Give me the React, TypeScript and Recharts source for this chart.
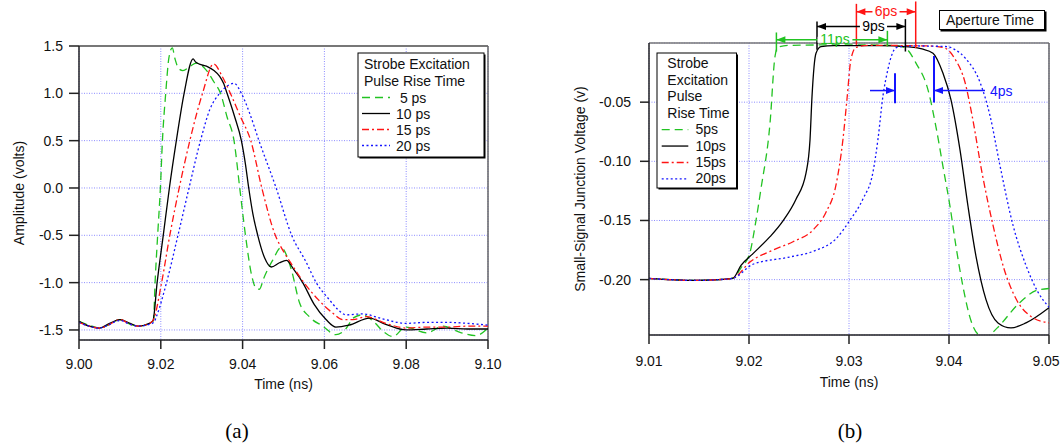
import React from 'react';
import { LineChart, Line, XAxis, YAxis, CartesianGrid, ReferenceLine, Legend } from 'recharts';

const GREEN = '#22c322';
const BLACK = '#000000';
const RED = '#ff1414';
const BLUE = '#1414ff';
const GRID = '#8c8cff';
const AXIS = '#222222';
const FONT = '"Liberation Sans", Arial, Helvetica, sans-serif';

// ---------- Panel (a): amplitude (volts) vs time (ns) ----------
const timeA5 = [9.000, 9.0025, 9.005, 9.0075, 9.010, 9.0125, 9.0145, 9.0172, 9.0182, 9.0186, 9.0193, 9.0199, 9.0204, 9.0212, 9.0220, 9.0228, 9.0235, 9.0244, 9.0254, 9.0270, 9.0287, 9.0310, 9.0330, 9.0346, 9.0362, 9.0379, 9.0393, 9.0407, 9.0422, 9.0433, 9.0441, 9.0452, 9.0474, 9.0494, 9.0519, 9.0539, 9.0563, 9.0596, 9.0628, 9.0650, 9.0672, 9.0693, 9.0720, 9.0745, 9.0767, 9.0799, 9.0850, 9.0890, 9.0935, 9.0970, 9.1000];
const ampA5 = [-1.41, -1.45, -1.48, -1.44, -1.39, -1.44, -1.46, -1.43, -1.40, -1.00, -0.45, 0.00, 0.50, 1.00, 1.38, 1.48, 1.36, 1.26, 1.24, 1.28, 1.32, 1.25, 1.12, 1.00, 0.75, 0.50, 0.00, -0.50, -0.92, -1.06, -1.07, -0.95, -0.76, -0.63, -0.86, -1.21, -1.36, -1.46, -1.55, -1.50, -1.37, -1.34, -1.41, -1.52, -1.57, -1.47, -1.53, -1.46, -1.53, -1.56, -1.48];

const timeA10 = [9.000, 9.0025, 9.005, 9.0075, 9.010, 9.0125, 9.0145, 9.0172, 9.0181, 9.0191, 9.0206, 9.0221, 9.0238, 9.0257, 9.0279, 9.0285, 9.0300, 9.0315, 9.0330, 9.0344, 9.0354, 9.0362, 9.0380, 9.0397, 9.0407, 9.0415, 9.0425, 9.0437, 9.0454, 9.0470, 9.0490, 9.0507, 9.0525, 9.0547, 9.0575, 9.0604, 9.0628, 9.0660, 9.0710, 9.0750, 9.0800, 9.0850, 9.0900, 9.0950, 9.1000];
const ampA10 = [-1.41, -1.46, -1.48, -1.43, -1.39, -1.43, -1.46, -1.43, -1.40, -1.00, -0.50, 0.00, 0.50, 1.00, 1.365, 1.33, 1.30, 1.28, 1.24, 1.18, 1.10, 1.00, 0.76, 0.50, 0.25, 0.00, -0.27, -0.50, -0.74, -0.835, -0.79, -0.765, -0.86, -1.00, -1.23, -1.39, -1.47, -1.45, -1.375, -1.44, -1.50, -1.49, -1.48, -1.49, -1.49];

const timeA15 = [9.000, 9.0025, 9.005, 9.0075, 9.010, 9.0125, 9.0145, 9.0172, 9.0181, 9.0202, 9.0222, 9.0245, 9.0271, 9.0302, 9.0329, 9.0350, 9.0370, 9.0395, 9.0420, 9.0447, 9.0480, 9.0500, 9.0519, 9.0550, 9.0585, 9.0620, 9.0645, 9.0670, 9.0702, 9.0750, 9.0800, 9.0850, 9.0900, 9.0950, 9.1000];
const ampA15 = [-1.42, -1.46, -1.48, -1.44, -1.39, -1.44, -1.46, -1.43, -1.40, -1.00, -0.50, 0.00, 0.50, 1.00, 1.31, 1.18, 1.00, 0.75, 0.50, 0.00, -0.50, -0.67, -0.80, -1.00, -1.18, -1.32, -1.39, -1.39, -1.36, -1.43, -1.48, -1.47, -1.47, -1.46, -1.46];

const timeA20 = [9.000, 9.0025, 9.005, 9.0075, 9.010, 9.0125, 9.0145, 9.0172, 9.0183, 9.0190, 9.0214, 9.0242, 9.0269, 9.0297, 9.0320, 9.0344, 9.0360, 9.0379, 9.0397, 9.0418, 9.0440, 9.0482, 9.0520, 9.0555, 9.0580, 9.0612, 9.0632, 9.0653, 9.0693, 9.0740, 9.0800, 9.0850, 9.0900, 9.0950, 9.1000];
const ampA20 = [-1.42, -1.46, -1.48, -1.44, -1.40, -1.44, -1.46, -1.44, -1.42, -1.35, -1.00, -0.50, 0.00, 0.50, 0.83, 1.00, 1.07, 1.106, 1.00, 0.78, 0.50, 0.00, -0.50, -0.78, -1.00, -1.18, -1.28, -1.34, -1.33, -1.38, -1.43, -1.42, -1.42, -1.43, -1.45];

const timeTicksA = [9.0, 9.02, 9.04, 9.06, 9.08, 9.1];
const ampTicks = [-1.5, -1.0, -0.5, 0.0, 0.5, 1.0, 1.5];
const legendHeaderA = ['Strobe Excitation', 'Pulse Rise Time'];
const riseLabelsA = [' 5 ps', '10 ps', '15 ps', '20 ps'];

// ---------- Panel (b): small-signal junction voltage vs time ----------
const timeB5 = [9.0100, 9.0125, 9.0145, 9.0170, 9.0184, 9.0192, 9.0201, 9.0206, 9.0212, 9.0221, 9.0226, 9.0229, 9.0240, 9.0300, 9.0345, 9.0356, 9.0367, 9.0379, 9.0387, 9.0394, 9.0401, 9.0407, 9.0414, 9.0422, 9.0432, 9.0438, 9.0448, 9.0470, 9.0488, 9.0500];
const voltB5 = [-0.1990, -0.2002, -0.2007, -0.2000, -0.1988, -0.1900, -0.1770, -0.1550, -0.1230, -0.0680, -0.0114, -0.0035, -0.0020, -0.0015, -0.0020, -0.0040, -0.0170, -0.0396, -0.0710, -0.1045, -0.1380, -0.1720, -0.2060, -0.2348, -0.2475, -0.2480, -0.2410, -0.2200, -0.2090, -0.2075];

const timeB10 = [9.0100, 9.0125, 9.0145, 9.0170, 9.0184, 9.0192, 9.0204, 9.0221, 9.0234, 9.0247, 9.0257, 9.0261, 9.0263, 9.0267, 9.0272, 9.0285, 9.0330, 9.0360, 9.0373, 9.0384, 9.0394, 9.0402, 9.0411, 9.0419, 9.0427, 9.0437, 9.0449, 9.0462, 9.0477, 9.0500];
const voltB10 = [-0.1990, -0.2002, -0.2007, -0.2000, -0.1988, -0.1880, -0.1780, -0.1637, -0.1503, -0.1320, -0.1100, -0.0820, -0.0453, -0.0086, -0.0030, -0.0022, -0.0022, -0.0032, -0.0050, -0.0086, -0.0256, -0.0480, -0.0903, -0.1380, -0.1803, -0.2169, -0.2366, -0.2408, -0.2366, -0.2238];

const timeB15 = [9.0100, 9.0125, 9.0145, 9.0170, 9.0184, 9.0201, 9.0224, 9.0244, 9.0264, 9.0277, 9.0287, 9.0294, 9.0298, 9.0302, 9.0307, 9.0320, 9.0380, 9.0394, 9.0406, 9.0416, 9.0423, 9.0433, 9.0444, 9.0455, 9.0467, 9.0483, 9.0500];
const voltB15 = [-0.1990, -0.2002, -0.2007, -0.2000, -0.1988, -0.1850, -0.1750, -0.1680, -0.1580, -0.1430, -0.1200, -0.0811, -0.0473, -0.0135, -0.0037, -0.0020, -0.0025, -0.0037, -0.0135, -0.0332, -0.0610, -0.1095, -0.1540, -0.1908, -0.2162, -0.2317, -0.2365];

const timeB20 = [9.0100, 9.0125, 9.0145, 9.0170, 9.0184, 9.0204, 9.0240, 9.0266, 9.0287, 9.0301, 9.0314, 9.0324, 9.0329, 9.0334, 9.0339, 9.0342, 9.0348, 9.0365, 9.0398, 9.0405, 9.0417, 9.0431, 9.0441, 9.0451, 9.0464, 9.0477, 9.0489, 9.0500];
const voltB20 = [-0.1990, -0.2002, -0.2007, -0.2000, -0.1988, -0.1870, -0.1810, -0.1755, -0.1655, -0.1497, -0.1317, -0.1090, -0.0811, -0.0445, -0.0220, -0.0120, -0.0037, -0.0025, -0.0030, -0.0052, -0.0135, -0.0332, -0.0614, -0.1037, -0.1540, -0.1880, -0.2106, -0.2233];

const timeTicksB = [9.01, 9.02, 9.03, 9.04, 9.05];
const voltTicksB = [-0.20, -0.15, -0.10, -0.05];
const legendHeaderB = ['Strobe', 'Excitation', 'Pulse', 'Rise Time'];
const riseLabelsB = ['5ps', '10ps', '15ps', '20ps'];

// aperture-time dimension marks (data coordinates: time ns, volts)
const apertureSpans = [
  { label: '11ps', color: GREEN, from: 9.02274, to: 9.03384, level: 0.0027, labelAt: 9.0286 },
  { label: '9ps', color: BLACK, from: 9.0268, to: 9.03564, level: 0.0139, labelAt: 9.03245 },
  { label: '6ps', color: RED, from: 9.03074, to: 9.03667, level: 0.0264, labelAt: 9.0337 },
];
const apertureBars = [
  { t: 9.02274, top: 0.0089, bottom: -0.0072, color: GREEN },
  { t: 9.03384, top: 0.0103, bottom: -0.0030, color: GREEN },
  { t: 9.0268, top: 0.0182, bottom: -0.0058, color: BLACK },
  { t: 9.03564, top: 0.0202, bottom: -0.0072, color: BLACK },
  { t: 9.03074, top: 0.0331, bottom: -0.0016, color: RED },
  { t: 9.03667, top: 0.0351, bottom: -0.0043, color: RED },
  { t: 9.0346, top: -0.0255, bottom: -0.0509, color: BLUE },
  { t: 9.0385, top: -0.0109, bottom: -0.0503, color: BLUE },
];
const apertureArrows = [
  { from: 9.0321, to: 9.0346, level: -0.0402, label: '' },
  { from: 9.0436, to: 9.0385, level: -0.0402, label: '4ps' },
];

const zip = (ts: number[], vs: number[]) => ts.map((t, i) => ({ t, v: vs[i] }));

const lineStyles = [
  { color: GREEN, dash: '8 5' },
  { color: BLACK, dash: undefined as string | undefined },
  { color: RED, dash: '7 3 2 3' },
  { color: BLUE, dash: '2 2.5' },
];

const seriesA = [zip(timeA5, ampA5), zip(timeA10, ampA10), zip(timeA15, ampA15), zip(timeA20, ampA20)];
const seriesB = [zip(timeB5, voltB5), zip(timeB10, voltB10), zip(timeB15, voltB15), zip(timeB20, voltB20)];

function LegendA() {
  return (
    <svg width={131} height={109} style={{ display: 'block', overflow: 'visible' }}>
      <rect x={2.5} y={2.5} width={126} height={104} fill="#000" />
      <rect x={1} y={1} width={126} height={104} fill="#fff" stroke="#000" strokeWidth={1} />
      {legendHeaderA.map((h, i) => (
        <text key={h} x={7} y={17 + i * 16.8} fontSize={14} fill="#111">{h}</text>
      ))}
      {riseLabelsA.map((lab, i) => {
        const y = 50.5 + i * 16;
        return (
          <g key={lab}>
            <line x1={5} x2={33} y1={y - 5} y2={y - 5} stroke={lineStyles[i].color} strokeWidth={1.3} strokeDasharray={lineStyles[i].dash} />
            <text x={39} y={y} fontSize={14} fill="#111" style={{ whiteSpace: 'pre' }}>{lab}</text>
          </g>
        );
      })}
    </svg>
  );
}

function LegendB() {
  return (
    <svg width={84} height={140} style={{ display: 'block', overflow: 'visible' }}>
      <rect x={2.5} y={2.5} width={79.5} height={135} fill="#000" />
      <rect x={1} y={1} width={79.5} height={135} fill="#fff" stroke="#000" strokeWidth={1} />
      {legendHeaderB.map((h, i) => (
        <text key={h} x={11.3} y={16.3 + i * 16.45} fontSize={14} fill="#111">{h}</text>
      ))}
      {riseLabelsB.map((lab, i) => {
        const y = 82.1 + i * 16.45;
        return (
          <g key={lab}>
            <line x1={5.7} x2={32.3} y1={y - 4.5} y2={y - 4.5} stroke={lineStyles[i].color} strokeWidth={1.3} strokeDasharray={lineStyles[i].dash} />
            <text x={39.5} y={y} fontSize={14} fill="#111">{lab}</text>
          </g>
        );
      })}
    </svg>
  );
}

const spanShape = (mark: any) => (p: any) => {
  const { x1, y1, x2, y2 } = p;
  const head = 9;
  const hw = 3.5;
  const dir = x2 >= x1 ? 1 : -1;
  const lx = x1 + ((mark.labelAt - mark.from) / (mark.to - mark.from)) * (x2 - x1);
  const tw = mark.label.length * 7.7;
  return (
    <g>
      <line x1={x1} y1={y1} x2={x2} y2={y2} stroke={mark.color} strokeWidth={1.5} />
      <polygon points={`${x1},${y1} ${x1 + dir * head},${y1 - hw} ${x1 + dir * head},${y1 + hw}`} fill={mark.color} />
      <polygon points={`${x2},${y2} ${x2 - dir * head},${y2 - hw} ${x2 - dir * head},${y2 + hw}`} fill={mark.color} />
      <rect x={lx - tw / 2 - 2} y={y1 - 3} width={tw + 4} height={6} fill="#fff" />
      <text x={lx} y={y1 + 4.5} textAnchor="middle" fontSize={14} fill={mark.color}>{mark.label}</text>
    </g>
  );
};

const arrowShape = (mark: any) => (p: any) => {
  const { x1, y1, x2, y2 } = p;
  const head = 9;
  const hw = 3.5;
  const dir = x2 >= x1 ? 1 : -1;
  return (
    <g>
      <line x1={x1} y1={y1} x2={x2} y2={y2} stroke={BLUE} strokeWidth={1.5} />
      <polygon points={`${x2},${y2} ${x2 - dir * head},${y2 - hw} ${x2 - dir * head},${y2 + hw}`} fill={BLUE} />
      {mark.label ? (
        <text x={x1 + 5} y={y1 + 5.5} textAnchor="start" fontSize={14} fill={BLUE}>{mark.label}</text>
      ) : null}
    </g>
  );
};

const axisLine = { stroke: AXIS, strokeWidth: 1.5 };
const tickLine = { stroke: AXIS, strokeWidth: 1.5 };
const tickStyle = { fill: '#111', fontSize: 14 };

// x tick of panel (b): the last label is nudged left so it stays inside the page, as in the reference
const TimeTickB = (props: any) => {
  const { x, y, payload } = props;
  const last = payload.value === timeTicksB[timeTicksB.length - 1];
  return (
    <text x={x + (last ? -3 : 0)} y={y} dy="0.71em" textAnchor="middle" fontSize={14} fill="#111">
      {Number(payload.value).toFixed(2)}
    </text>
  );
};

function ChartA() {
  return (
    <LineChart width={530} height={444} margin={{ top: 46, right: 42, bottom: 44, left: 0 }}>
      <CartesianGrid stroke={GRID} strokeDasharray="1 1.5" />
      <XAxis
        type="number"
        dataKey="t"
        domain={[9.0, 9.1]}
        ticks={timeTicksA}
        allowDataOverflow
        tickFormatter={(v: number) => v.toFixed(2)}
        height={60}
        tickSize={9}
        tickMargin={10}
        axisLine={axisLine}
        tickLine={tickLine}
        tick={tickStyle}
        label={{ value: 'Time (ns)', position: 'insideTop', offset: 39, fontSize: 14, fill: '#111' }}
      />
      <YAxis
        type="number"
        domain={[-1.606, 1.5]}
        ticks={ampTicks}
        allowDataOverflow
        tickFormatter={(v: number) => v.toFixed(1)}
        width={79}
        tickSize={10}
        tickMargin={6}
        axisLine={axisLine}
        tickLine={tickLine}
        tick={tickStyle}
        label={{ value: 'Amplitude (volts)', angle: -90, position: 'insideLeft', offset: 19, fontSize: 14, fill: '#111', style: { textAnchor: 'middle' } }}
      />
      <ReferenceLine y={1.5} stroke="#777" strokeWidth={2} />
      <ReferenceLine x={9.1} stroke="#666" strokeWidth={1.5} />
      {seriesA.map((d, i) => (
        <Line
          key={i}
          data={d}
          dataKey="v"
          type="monotone"
          stroke={lineStyles[i].color}
          strokeWidth={1.3}
          strokeDasharray={lineStyles[i].dash}
          dot={false}
          activeDot={false}
          isAnimationActive={false}
          name={riseLabelsA[i].trim()}
        />
      ))}
      <Legend layout="vertical" align="center" verticalAlign="middle" width={131} height={109} wrapperStyle={{ left: 357, top: 52 }} content={() => <LegendA />} />
    </LineChart>
  );
}

function ChartB() {
  return (
    <LineChart width={540} height={444} margin={{ top: 43, right: 21, bottom: 49, left: 0 }}>
      <CartesianGrid stroke={GRID} strokeDasharray="1 1.5" />
      <XAxis
        type="number"
        dataKey="t"
        domain={[9.01, 9.05]}
        ticks={timeTicksB}
        allowDataOverflow
        height={60}
        tickSize={9}
        tickMargin={12}
        axisLine={axisLine}
        tickLine={tickLine}
        tick={<TimeTickB />}
        label={{ value: 'Time (ns)', position: 'insideTop', offset: 42, fontSize: 14, fill: '#111' }}
      />
      <YAxis
        type="number"
        domain={[-0.2468, 0]}
        ticks={voltTicksB}
        allowDataOverflow
        tickFormatter={(v: number) => v.toFixed(2)}
        width={119}
        tickSize={9}
        tickMargin={9}
        axisLine={axisLine}
        tickLine={tickLine}
        tick={tickStyle}
        label={{ value: 'Small-Signal Junction Voltage (v)', angle: -90, position: 'insideLeft', offset: 50, fontSize: 14, fill: '#111', style: { textAnchor: 'middle' } }}
      />
      <ReferenceLine y={0} stroke="#777" strokeWidth={1.5} />
      <ReferenceLine x={9.05} stroke="#666" strokeWidth={1.5} />
      {seriesB.map((d, i) => (
        <Line
          key={i}
          data={d}
          dataKey="v"
          type="monotone"
          stroke={lineStyles[i].color}
          strokeWidth={1.3}
          strokeDasharray={lineStyles[i].dash}
          dot={false}
          activeDot={false}
          isAnimationActive={false}
          name={riseLabelsB[i]}
        />
      ))}
      {apertureBars.map((b, i) => (
        <ReferenceLine
          key={'bar' + i}
          segment={[{ x: b.t, y: b.top }, { x: b.t, y: b.bottom }]}
          ifOverflow="visible"
          stroke={b.color}
          strokeWidth={b.color === BLUE ? 2 : 1.5}
        />
      ))}
      {apertureSpans.map((m, i) => (
        <ReferenceLine
          key={'span' + i}
          segment={[{ x: m.from, y: m.level }, { x: m.to, y: m.level }]}
          ifOverflow="visible"
          stroke={m.color}
          shape={spanShape(m)}
        />
      ))}
      {apertureArrows.map((m, i) => (
        <ReferenceLine
          key={'arrow' + i}
          segment={[{ x: m.from, y: m.level }, { x: m.to, y: m.level }]}
          ifOverflow="visible"
          stroke={BLUE}
          shape={arrowShape(m)}
        />
      ))}
      <Legend layout="vertical" align="center" verticalAlign="middle" width={84} height={140} wrapperStyle={{ left: 126, top: 52 }} content={() => <LegendB />} />
    </LineChart>
  );
}

export default function App() {
  return (
    <div style={{ position: 'absolute', left: 0, top: 0, width: 1060, height: 444, background: '#fff', fontFamily: FONT, overflow: 'hidden' }}>
      <div style={{ position: 'absolute', left: 0, top: 0 }}>
        <ChartA />
      </div>
      <div style={{ position: 'absolute', left: 530, top: 0 }}>
        <ChartB />
      </div>
      <div
        style={{
          position: 'absolute', left: 939, top: 10, width: 106, height: 20, boxSizing: 'border-box',
          border: '1px solid #000', boxShadow: '1.5px 1.5px 0 #000', background: '#fff',
          fontSize: 14, lineHeight: '18px', paddingLeft: 6, color: '#111', whiteSpace: 'nowrap',
        }}
      >
        Aperture Time
      </div>
      <svg width={1060} height={444} style={{ position: 'absolute', left: 0, top: 0, pointerEvents: 'none' }}>
        <text x={237} y={438} textAnchor="middle" fontSize={21} fontFamily='"Liberation Serif", "Times New Roman", serif' fill="#000">(a)</text>
        <text x={850} y={438} textAnchor="middle" fontSize={21} fontFamily='"Liberation Serif", "Times New Roman", serif' fill="#000">(b)</text>
      </svg>
    </div>
  );
}
